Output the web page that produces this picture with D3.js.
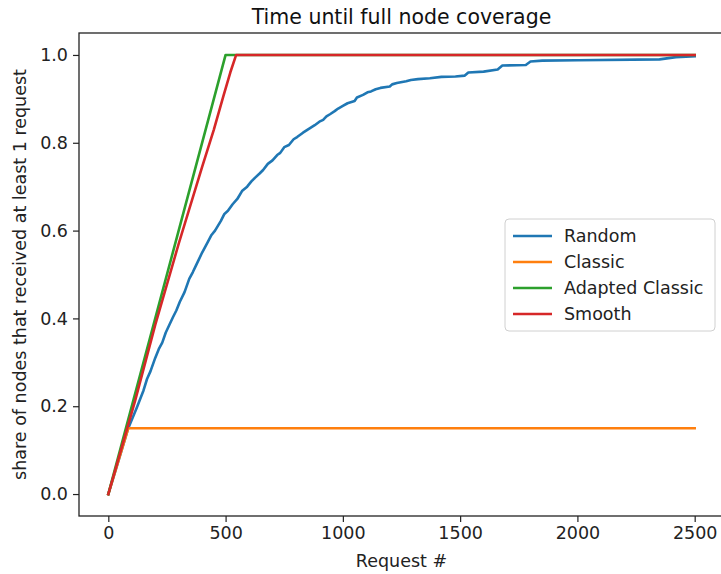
<!DOCTYPE html>
<html>
<head>
<meta charset="utf-8">
<script src="https://cdn.jsdelivr.net/npm/d3@7"></script>
<style>
  body { margin: 0; background: #fff; }
  svg { display: block; font-family: "DejaVu Sans", sans-serif; }
</style>
</head>
<body>
<svg id="chart" width="721" height="574"></svg>
<script>
// Series: [request #, share of nodes]
const seriesNames = ['Random', 'Classic', 'Adapted Classic', 'Smooth'];
const seriesColors = ['#1f77b4', '#ff7f0e', '#2ca02c', '#d62728'];

const randomData = [
  [0, 0], [40, 0.07], [85, 0.15], [120, 0.195], [150, 0.236], [165, 0.262],
  [180, 0.28], [200, 0.31], [215, 0.33], [230, 0.345], [245, 0.368],
  [260, 0.385], [275, 0.402], [290, 0.418], [305, 0.438], [325, 0.46],
  [345, 0.49], [360, 0.505], [375, 0.522], [400, 0.55], [425, 0.575],
  [440, 0.59], [455, 0.6], [480, 0.622], [495, 0.638], [510, 0.645],
  [530, 0.66], [550, 0.672], [570, 0.69], [592, 0.7], [610, 0.712],
  [625, 0.72], [645, 0.73], [660, 0.738], [680, 0.752], [700, 0.76],
  [720, 0.772], [733, 0.777], [750, 0.79], [770, 0.795], [790, 0.808],
  [805, 0.813], [830, 0.823], [850, 0.83], [865, 0.835], [880, 0.84],
  [900, 0.848], [916, 0.852], [930, 0.86], [945, 0.865], [965, 0.872],
  [980, 0.878], [1000, 0.884], [1020, 0.89], [1050, 0.895], [1060, 0.903],
  [1086, 0.909], [1105, 0.915], [1120, 0.917], [1140, 0.922], [1160, 0.925],
  [1200, 0.928], [1210, 0.933], [1230, 0.936], [1270, 0.94], [1290, 0.943],
  [1320, 0.945], [1371, 0.947], [1420, 0.95], [1480, 0.951], [1520, 0.953],
  [1535, 0.96], [1600, 0.962], [1660, 0.967], [1680, 0.976], [1780, 0.977],
  [1800, 0.985], [1850, 0.987], [2000, 0.988], [2350, 0.99], [2420, 0.995],
  [2500, 0.997]
];
const classicData = [[0, 0], [85, 0.15], [2500, 0.15]];
const adaptedData = [[0, 0], [500, 1.0], [2500, 1.0]];
const smoothData = [
  [0, 0], [115, 0.214], [200, 0.385], [300, 0.57], [400, 0.745],
  [450, 0.83], [490, 0.905], [520, 0.96], [545, 1.0], [2500, 1.0]
];

const xTicks = [0, 500, 1000, 1500, 2000, 2500];
const yTicks = [0, 0.2, 0.4, 0.6, 0.8, 1.0];

const allSeries = [randomData, classicData, adaptedData, smoothData];

const svg = d3.select('#chart');
const margin = { left: 79, top: 33, right: 724, bottom: 516 };

const x = d3.scaleLinear().domain([-125, 2625]).range([margin.left, margin.right]);
const y = d3.scaleLinear().domain([-0.05, 1.05]).range([margin.bottom, margin.top]);

// lines
const line = d3.line().x(d => x(d[0])).y(d => y(d[1]));
svg.append('g')
  .selectAll('path')
  .data(allSeries)
  .join('path')
  .attr('d', line)
  .attr('fill', 'none')
  .attr('stroke', (d, i) => seriesColors[i])
  .attr('stroke-width', 2.6)
  .attr('stroke-linejoin', 'round')
  .attr('stroke-linecap', 'square');

// axes
const xAxis = d3.axisBottom(x).tickValues(xTicks).tickSize(6).tickPadding(5).tickFormat(d3.format('d'));
const yAxis = d3.axisLeft(y).tickValues(yTicks).tickSize(6).tickPadding(5).tickFormat(d3.format('.1f'));

const gx = svg.append('g').attr('transform', `translate(0,${margin.bottom})`).call(xAxis);
const gy = svg.append('g').attr('transform', `translate(${margin.left},0)`).call(yAxis);
[gx, gy].forEach(g => {
  g.select('.domain').remove();
  g.selectAll('line').attr('stroke', '#222').attr('stroke-width', 1.2);
  g.selectAll('text').attr('font-size', 17.5).attr('fill', '#222')
    .attr('font-family', '"DejaVu Sans", sans-serif');
});

// frame
svg.append('rect')
  .attr('x', margin.left).attr('y', margin.top)
  .attr('width', margin.right - margin.left).attr('height', margin.bottom - margin.top)
  .attr('fill', 'none').attr('stroke', '#222').attr('stroke-width', 1.3);

// title and labels
svg.append('text')
  .attr('x', (margin.left + margin.right) / 2).attr('y', 24)
  .attr('text-anchor', 'middle').attr('font-size', 20.5).attr('fill', '#111')
  .text('Time until full node coverage');

svg.append('text')
  .attr('x', (margin.left + margin.right) / 2).attr('y', 567)
  .attr('text-anchor', 'middle').attr('font-size', 17.5).attr('fill', '#222')
  .text('Request #');

svg.append('text')
  .attr('transform', `translate(26,${(margin.top + margin.bottom) / 2}) rotate(-90)`)
  .attr('text-anchor', 'middle').attr('font-size', 17.5).attr('fill', '#222')
  .text('share of nodes that received at least 1 request');

// legend
const legend = svg.append('g').attr('transform', 'translate(505,219)');
legend.append('rect')
  .attr('width', 210).attr('height', 112).attr('rx', 4)
  .attr('fill', 'rgba(255,255,255,0.8)').attr('stroke', '#d0d0d0');
const items = legend.selectAll('g.item')
  .data(seriesNames)
  .join('g')
  .attr('class', 'item')
  .attr('transform', (d, i) => `translate(0,${17 + i * 26})`);
items.append('line')
  .attr('x1', 8).attr('x2', 47)
  .attr('stroke', (d, i) => seriesColors[i]).attr('stroke-width', 2.6);
items.append('text')
  .attr('x', 59).attr('dy', '0.35em')
  .attr('font-size', 17.5).attr('fill', '#222')
  .text(d => d);
</script>
</body>
</html>
